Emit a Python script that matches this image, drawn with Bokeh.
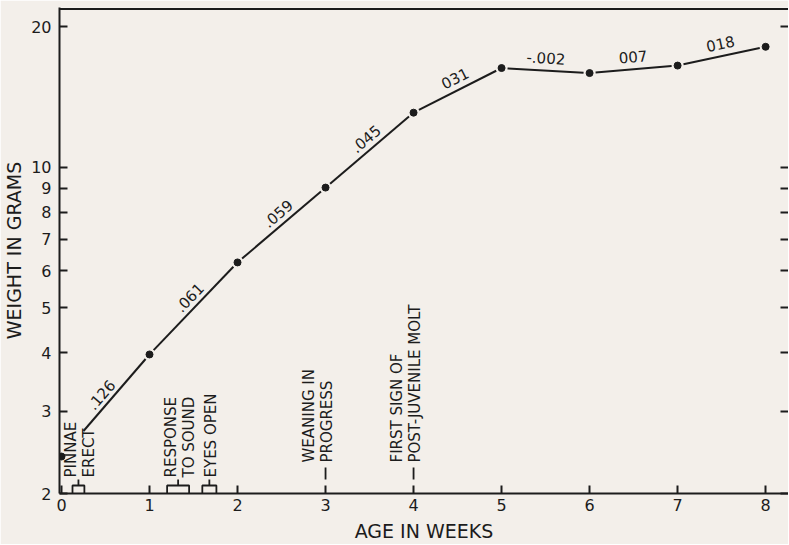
import math
from bokeh.plotting import figure
from bokeh.models import Range1d, LogAxis, FixedTicker, Span
from bokeh.embed import file_html
from bokeh.resources import INLINE
from bokeh.core.properties import value

# ---- data ----
weeks = [0, 1, 2, 3, 4, 5, 6, 7, 8]
weight = [2.40, 3.97, 6.25, 9.04, 13.08, 16.3, 15.9, 16.5, 18.1]
rates = [".126", ".061", ".059", ".045", "031", "-.002", "007", "018"]
y_ticks = [2, 3, 4, 5, 6, 7, 8, 9, 10, 20]
x_ticks = [0, 1, 2, 3, 4, 5, 6, 7, 8]

event_labels = ["PINNAE\nERECT", "RESPONSE\nTO SOUND", "EYES OPEN"]
event_start = [0.125, 1.2, 1.6]
event_end = [0.26, 1.45, 1.76]
mark_labels = ["WEANING IN\nPROGRESS", "FIRST SIGN OF\nPOST-JUVENILE MOLT"]
mark_weeks = [3, 4]

# ---- style ----
INK = "#1c1c1c"
BG = "#f3efea"
FONT = "DejaVu Sans"
FW, FH = 729, 486
X0, X1 = -0.0227, 8.26
Y0, Y1 = 2.0, 21.97
PXW = FW / (X1 - X0)
PXD = FH / (math.log10(Y1) - math.log10(Y0))


def up(px):
    return Y0 * 10 ** (px / PXD)


p = figure(frame_width=FW, frame_height=FH, y_axis_type="log",
           x_range=Range1d(X0, X1), y_range=Range1d(Y0, Y1),
           output_backend="svg", toolbar_location=None,
           min_border_left=52, min_border_right=0, min_border_top=7, min_border_bottom=40,
           background_fill_color=BG, border_fill_color=BG)
p.outline_line_color = None
p.grid.visible = False

# axes
for ax in (p.xaxis[0], p.yaxis[0]):
    ax.axis_line_color = INK
    ax.axis_line_width = 2
    ax.major_tick_line_color = INK
    ax.major_tick_line_width = 2
    ax.major_tick_in = 8
    ax.major_tick_out = 0
    ax.minor_tick_line_color = None
    ax.major_label_text_font = FONT
    ax.major_label_text_font_size = "16px"
    ax.major_label_text_color = INK
    ax.axis_label_text_font = FONT
    ax.axis_label_text_font_size = "19px"
    ax.axis_label_text_font_style = "normal"
    ax.axis_label_text_color = INK

p.xaxis.ticker = FixedTicker(ticks=x_ticks)
p.yaxis.ticker = FixedTicker(ticks=y_ticks)
p.yaxis.major_label_overrides = {t: str(t) for t in y_ticks}
p.xaxis.axis_label = "AGE IN WEEKS"
p.yaxis.axis_label = "WEIGHT IN GRAMS"
p.xaxis.major_label_standoff = 5
p.xaxis.axis_label_standoff = 6
p.yaxis.major_label_standoff = 8
p.yaxis.axis_label_standoff = 3

ra = LogAxis(ticker=FixedTicker(ticks=y_ticks))
ra.axis_line_color = None
ra.major_tick_line_color = INK
ra.major_tick_line_width = 2
ra.major_tick_in = 8
ra.major_tick_out = 0
ra.minor_tick_line_color = None
ra.major_label_text_font_size = "1px"
ra.major_label_text_alpha = 0
ra.major_label_standoff = 0
p.add_layout(ra, "right")

# top frame line
p.add_layout(Span(location=up(FH - 1.5), dimension="width", line_color=INK, line_width=2))

# ---- growth line segments with gaps at points ----
sx0, sy0, sx1, sy1 = [], [], [], []
tx, ty, ta = [], [], []
GAP = 6
for i in range(len(weeks) - 1):
    xa, xb = weeks[i], weeks[i + 1]
    la, lb = math.log10(weight[i]), math.log10(weight[i + 1])
    dx = (xb - xa) * PXW
    dy = (lb - la) * PXD
    L = math.hypot(dx, dy)
    f0 = 0.25 if i == 0 else GAP / L
    f1 = 1 - GAP / L
    sx0.append(xa + f0 * (xb - xa)); sy0.append(10 ** (la + f0 * (lb - la)))
    sx1.append(xa + f1 * (xb - xa)); sy1.append(10 ** (la + f1 * (lb - la)))
    tx.append((xa + xb) / 2); ty.append(10 ** ((la + lb) / 2))
    ta.append(math.atan2(dy, dx))

p.segment(sx0, sy0, sx1, sy1, line_color=INK, line_width=2)
p.scatter(weeks, weight, size=7, color=INK)
p.text(tx, ty, text=rates, angle=ta, text_align="center", text_baseline="bottom",
       y_offset=-7, text_font=value(FONT), text_font_size="15px", text_color=INK)

# ---- event brackets ----
hb, ht = up(8), up(14)
bxs, bys = [], []
for s, e in zip(event_start, event_end):
    m = (s + e) / 2
    bxs.append([s, s, e, e]); bys.append([Y0, hb, hb, Y0])
    bxs.append([m, m]); bys.append([hb, ht])
p.multi_line(bxs, bys, line_color=INK, line_width=1.8)
p.text([(s + e) / 2 + 2 / PXW for s, e in zip(event_start, event_end)], [up(16)] * 3,
       text=event_labels, angle=math.pi / 2, text_align="left", text_baseline="middle",
       text_font=value(FONT), text_font_size="15px", text_color=INK, text_line_height=1.0)

# ---- point markers for weaning / molt ----
p.segment(mark_weeks, [up(14)] * 2, mark_weeks, [up(26)] * 2, line_color=INK, line_width=1.8)
p.text([w - 7.5 / PXW for w in mark_weeks], [up(31)] * 2, text=mark_labels,
       angle=math.pi / 2, text_align="left", text_baseline="middle",
       text_font=value(FONT), text_font_size="15px", text_color=INK, text_line_height=1.0)

open("out.html", "w").write(file_html(p, INLINE))
